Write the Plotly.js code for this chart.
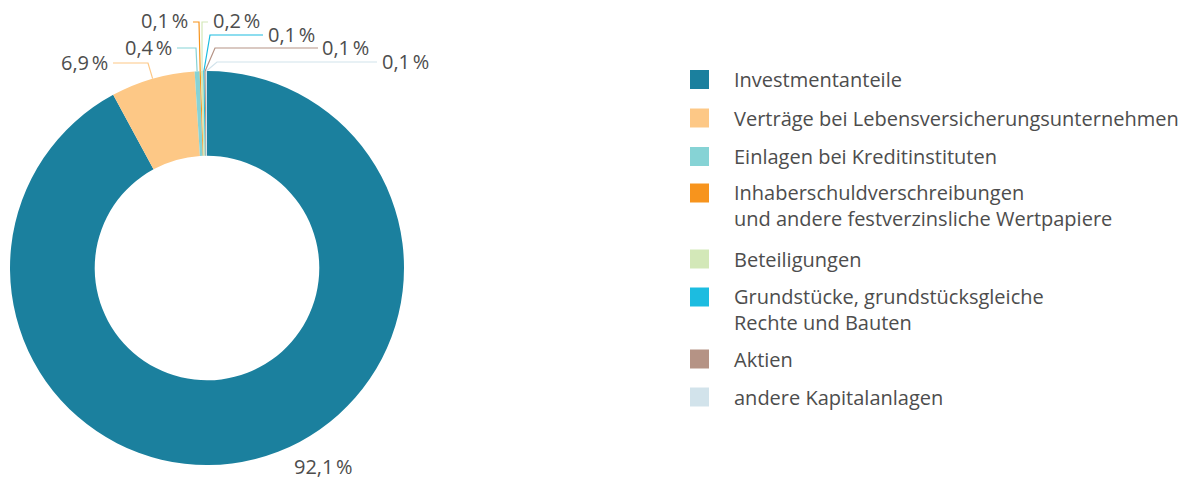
<!DOCTYPE html>
<html><head><meta charset="utf-8">
<script src="https://cdn.plot.ly/plotly-3.0.1.min.js"></script>
<style>body{margin:0;background:#fff}</style>
</head><body><div id="chart" style="width:1183px;height:480px"></div>
<script>
const categories = ["Investmentanteile", "Verträge bei Lebensversicherungsunternehmen", "Einlagen bei Kreditinstituten", "Inhaberschuldverschreibungen<br>und andere festverzinsliche Wertpapiere", "Beteiligungen", "Grundstücke, grundstücksgleiche<br>Rechte und Bauten", "Aktien", "andere Kapitalanlagen"];
const shares = [92.1, 6.9, 0.4, 0.1, 0.2, 0.1, 0.1, 0.1];
const colors = ["#1b809e", "#fdc886", "#86d3d5", "#f7941d", "#d3e8b8", "#1cbce0", "#b59385", "#d2e3eb"];

const W = 1183, H = 480;
const FONT = "Open Sans, sans-serif";
const TXT = "#4d4d4d";
const FS = 20;
const px = x => x / W, py = y => 1 - y / H;
const cx = 207, cy = 268, R = 197;

// label placement (pixels): elbow point, end of horizontal, text anchor
const labelPos = [
  {tx: 323, ty: 466, anchor: "center"},
  {ex: 148, ey: 63, hx: 113, tx: 110, ty: 63, anchor: "right"},
  {ex: 196, ey: 48, hx: 177, tx: 174, ty: 48, anchor: "right"},
  {ex: 199, ey: 22, hx: 193, tx: 190, ty: 21, anchor: "right"},
  {ex: 202, ey: 22, hx: 208, tx: 211, ty: 21, anchor: "left"},
  {ex: 210, ey: 35, hx: 263, tx: 266, ty: 35, anchor: "left"},
  {ex: 215, ey: 48, hx: 318, tx: 320, ty: 48, anchor: "left"},
  {ex: 217, ey: 62, hx: 377, tx: 380, ty: 62, anchor: "left"}
];

const total = shares.reduce((a, b) => a + b, 0);
const annotations = [], shapes = [];
let cum = 0;
shares.forEach((v, i) => {
  const mid = (cum + v / 2) / total;
  cum += v;
  const a = mid * 2 * Math.PI;
  const sx = cx + R * Math.sin(a), sy = cy - R * Math.cos(a);
  const p = labelPos[i];
  if (p.ex !== undefined) {
    shapes.push({type: "path", xref: "paper", yref: "paper",
      path: `M ${px(sx)} ${py(sy)} L ${px(p.ex)} ${py(p.ey)} L ${px(p.hx)} ${py(p.ey)}`,
      line: {color: colors[i], width: 1.2}});
  }
  annotations.push({xref: "paper", yref: "paper", x: px(p.tx), y: py(p.ty),
    xanchor: p.anchor, yanchor: "middle", showarrow: false,
    text: v.toFixed(1).replace(".", ",") + "\u202F%",
    font: {family: FONT, size: FS, color: TXT}});
});

// legend (drawn manually)
const legendRows = [79.5, 118, 156.5, 193, 259, 297, 359, 397];
const LH = 25;
categories.forEach((c, i) => {
  const y = legendRows[i];
  shapes.push({type: "rect", xref: "paper", yref: "paper",
    x0: px(690), x1: px(709), y0: py(y - 9.5), y1: py(y + 9.5),
    fillcolor: colors[i], line: {width: 0}});
  const n = c.split("<br>").length;
  annotations.push({xref: "paper", yref: "paper", x: px(732), y: py(y + (n - 1) * LH / 2),
    xanchor: "left", yanchor: "middle", align: "left", showarrow: false,
    text: c, font: {family: FONT, size: FS, color: TXT}});
});

const data = [{
  type: "pie", values: shares, labels: categories, sort: false,
  direction: "clockwise", rotation: 0, hole: 0.57,
  textinfo: "none", hoverinfo: "label+percent", showlegend: false,
  marker: {colors: colors, line: {width: 0}},
  domain: {x: [px(10), px(404)], y: [py(465), py(71)]}
}];

const layout = {
  width: W, height: H, margin: {l: 0, r: 0, t: 0, b: 0},
  paper_bgcolor: "#fff", showlegend: false,
  annotations: annotations, shapes: shapes
};
Plotly.newPlot("chart", data, layout, {displayModeBar: false, staticPlot: true});
</script></body></html>
